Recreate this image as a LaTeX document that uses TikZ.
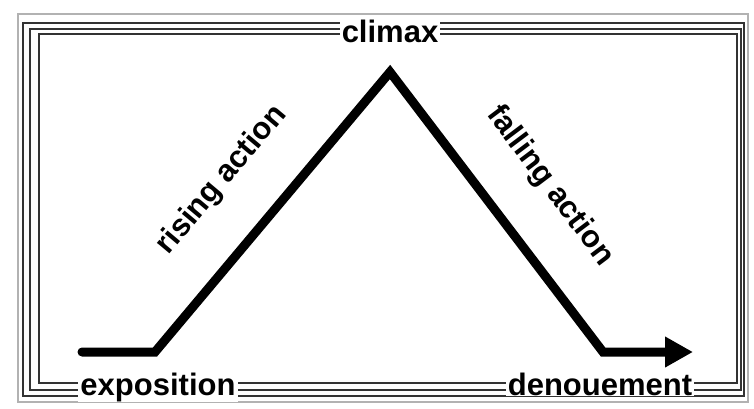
\documentclass[tikz,border=0pt]{standalone}
\usepackage{fontspec}
\setmainfont{Liberation Sans}
\usepackage{tikz}
\usetikzlibrary{arrows.meta, positioning, calc}
\tikzstyle{plotline} = [line width=9pt, line cap=round, line join=miter, black]
\tikzstyle{stage} = [font=\fontsize{31}{31}\selectfont\bfseries, inner sep=0pt, text=black]
\tikzstyle{endlabel} = [stage, fill=white, inner xsep=2pt, inner ysep=1pt, anchor=base]
\tikzstyle{frame} = [line width=1.1pt, draw=black!80]

\begin{document}
\begin{tikzpicture}[x=1pt, y=-1pt]
  \useasboundingbox (0,0) rectangle (754,408);
  % border lines
  \draw[frame, draw=black!30] (18,14) rectangle (748,402);
  \draw[frame] (23,23) rectangle (744,396);
  \draw[frame] (30,29) rectangle (741,390);
  \draw[frame] (39,34) rectangle (737,383);

  % plot points
  \coordinate (start) at (82,352);
  \coordinate (rise) at (155,352);
  \coordinate (peak) at (390,72);
  \coordinate (fall) at (603,352);
  \coordinate (end) at (693,352);

  \node[endlabel] (climax) at (390,42) {climax};
  \node[endlabel] (expo) at (158,395) {exposition};
  \node[endlabel] (denou) at (600,395) {denouement};
  \node[stage, rotate=50] (rising) at (222,180) {rising action};
  \node[stage, rotate=-53] (falling) at (550,186) {falling action};

  \draw[plotline, -{Triangle[length=28pt, width=29pt]}] (start) -- (rise) -- (peak) -- (fall) -- (end);
\end{tikzpicture}
\end{document}
